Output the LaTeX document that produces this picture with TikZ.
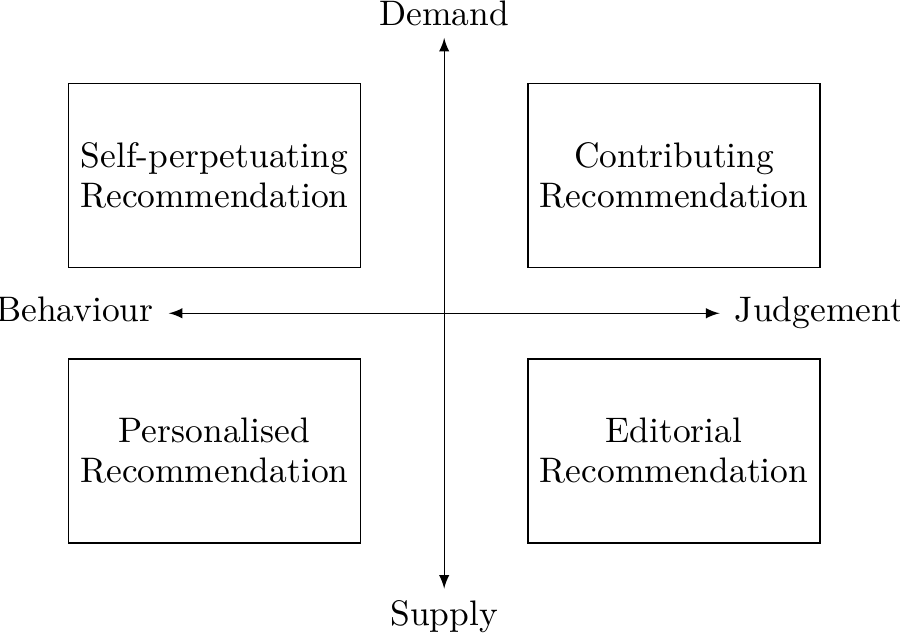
\documentclass[tikz,border=0pt]{standalone}
\usepackage{amsmath}
\usepackage{tikz}
\usetikzlibrary{positioning, arrows, arrows.meta}

\begin{document}
\begin{tikzpicture}[>=latex, font=\fontsize{10.4pt}{11.7pt}\selectfont,
        quadrant/.style={draw, minimum width=3.01cm, minimum height=1.90cm, align=center},
        axislabel/.style={text height=1.6ex, text depth=0.5ex}]
            \useasboundingbox (-4.58, -3.31) rectangle (4.70, 3.23);

            \node [quadrant] (selfperp) at (-2.37, 1.42) {Self-perpetuating\\Recommendation};
            \node [quadrant] (contrib) at (2.37, 1.42) {Contributing\\Recommendation};
            \node [quadrant] (personal) at (-2.37, -1.42) {Personalised\\Recommendation};
            \node [quadrant] (editorial) at (2.37, -1.42) {Editorial\\Recommendation};

            \node [above] (demand) at (0, 2.84) {Demand};
            \node [below] (supply) at (0, -2.84) {Supply};
            \node [axislabel, left, inner xsep=4.3pt] (behaviour) at (-2.84, 0) {Behaviour};
            \node [axislabel, right, inner xsep=4.3pt] (judgement) at (2.84, 0) {Judgement};

            \draw [<->] (supply) -- (demand);
            \draw [<->] (behaviour) -- (judgement);
        \end{tikzpicture}
\end{document}
